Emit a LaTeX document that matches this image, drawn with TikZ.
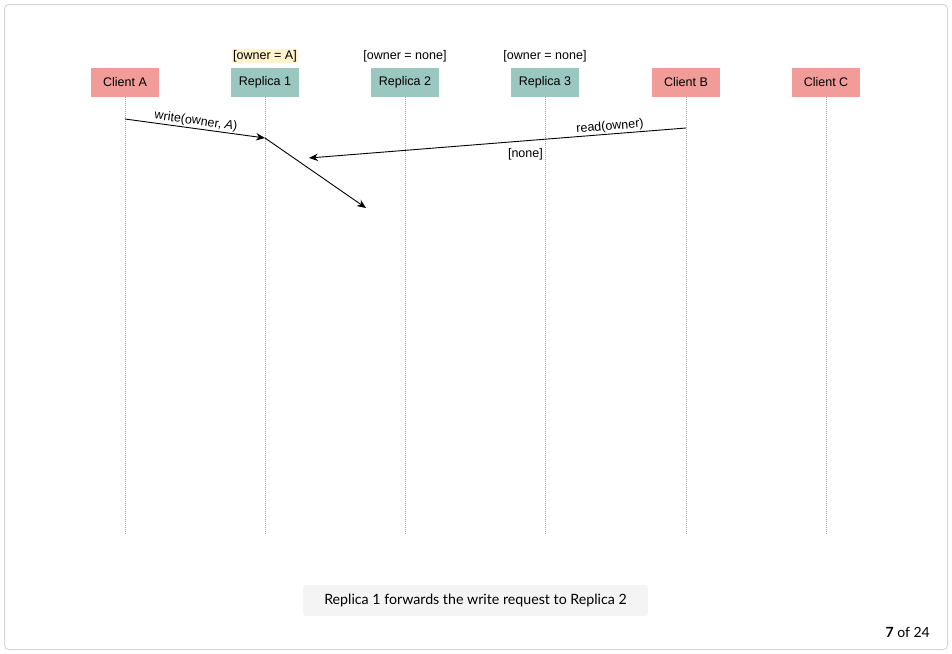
\documentclass[tikz,border=0pt]{standalone}
\usepackage{fontspec}
\setmainfont{Liberation Sans}
\newfontfamily\capfont{Lato}
\usetikzlibrary{arrows.meta,calc}
\definecolor{clientfill}{HTML}{F19C99}
\definecolor{replicafill}{HTML}{9AC7BF}
\definecolor{notefill}{HTML}{FFF2CC}
\definecolor{framecol}{HTML}{D6D6D6}
\definecolor{lifecol}{HTML}{A0A0A0}
\definecolor{capfill}{HTML}{F4F4F4}
\tikzset{
  actor/.style={minimum width=68pt,minimum height=29pt,inner sep=0pt,
    font=\fontsize{12.5}{15}\selectfont},
  client/.style={actor,fill=clientfill},
  replica/.style={actor,fill=replicafill},
  state/.style={inner sep=1pt,font=\fontsize{12.5}{15}\selectfont},
  lifeline/.style={draw=lifecol,line width=0.8pt,dash pattern=on 1pt off 1pt},
  msg/.style={draw=black,line width=0.9pt,-{Stealth[length=9pt,width=7.5pt]}},
  msglabel/.style={font=\fontsize{12.5}{15}\selectfont,inner sep=1pt},
}
\begin{document}
\begin{tikzpicture}[x=1pt,y=-1pt]
  \useasboundingbox (0,0) rectangle (952,653);
  % outer frame
  \draw[framecol,line width=1pt,rounded corners=4pt] (4.5,4.5) rectangle (947.5,649.5);

  % participants
  \node[client]  (ca) at (125,82.5) {Client A};
  \node[replica] (r1) at (265,82.5) {Replica 1};
  \node[replica] (r2) at (405,82.5) {Replica 2};
  \node[replica] (r3) at (545,82.5) {Replica 3};
  \node[client]  (cb) at (686,82.5) {Client B};
  \node[client]  (cc) at (826,82.5) {Client C};

  % replica states
  \node[state,fill=notefill] (s1) at (265,56) {[owner = A]};
  \node[state] (s2) at (405,56) {[owner = none]};
  \node[state] (s3) at (545,56) {[owner = none]};

  % lifelines
  \foreach \p in {ca,r1,r2,r3,cb,cc}{
    \coordinate (\p-end) at (\p.south |- 0,534);
    \draw[lifeline] (\p.south) -- (\p-end);
  }

  % message end points
  \coordinate (wA) at (ca.south |- 0,119);
  \coordinate (wR) at (r1.south |- 0,138);
  \coordinate (fw) at (366,208);
  \coordinate (rB) at (cb.south |- 0,128);
  \coordinate (rR) at (309,158);

  % messages
  \draw[msg] (wA) -- node[msglabel,above,sloped,pos=0.5] {write(owner, \textit{A})} (wR);
  \draw[msg] (wR) -- (fw);
  \draw[msg] (rB) -- node[msglabel,above,sloped,pos=0.2] {read(owner)} (rR);
  \node[msglabel,anchor=east] (rv) at (544,154) {[none]};

  % caption
  \node[fill=capfill,rounded corners=3pt,minimum width=345pt,minimum height=31pt,
        inner sep=0pt,font=\capfont\fontsize{14.2}{17}\selectfont] (cap) at (475.5,600.5)
        {Replica 1 forwards the write request to Replica 2};

  % page counter
  \node[anchor=east,inner sep=0pt,font=\capfont\fontsize{14}{17}\selectfont] (pg) at (930,632)
        {\textbf{7} of 24};
\end{tikzpicture}
\end{document}
